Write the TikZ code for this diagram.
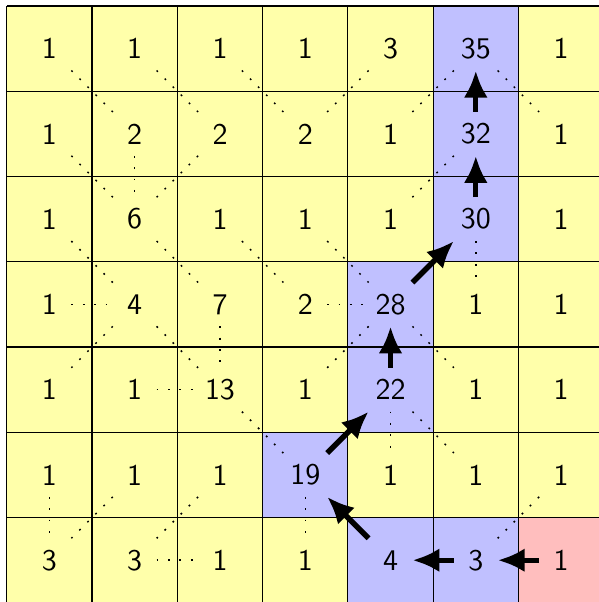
\documentclass[tikz,border=0pt]{standalone}
\definecolor{CellYellow}{RGB}{255,255,170}
\definecolor{PathBlue}{RGB}{192,192,255}
\definecolor{StartRed}{RGB}{255,190,190}
\usepackage{tikz}
\usetikzlibrary{arrows.meta}
\tikzset{
    % Number nodes sitting in the cells
    num/.style={
        rectangle,
        minimum size=0.5cm,
        inner sep=0pt,
        font=\sffamily
    },
    link style/.style={
        black,
        line width=0.5pt,
        dash pattern=on 0.6pt off 3.2pt
    },
    arrow style/.style={
        -{Latex[length=9pt,width=8pt]},
        line width=1.8pt,
        black
    }
}
\begin{document}
\begin{tikzpicture}
        \useasboundingbox (-0.08,0.07) rectangle (6.94,-6.99);

        % Cell colours
        \fill[CellYellow] (0,0) rectangle (7,-7);
        \foreach \c/\r in {5/0,5/1,5/2,4/3,4/4,3/5,4/6,5/6}
            \fill[PathBlue] (\c,-\r) rectangle ++(1,-1);
        \fill[StartRed] (6,-6) rectangle ++(1,-1);

        % Grid
        \draw[line width=0.4pt] (0,0) grid (7,-7);

        % Numbers
        \foreach \vals [count=\r from 0] in {
            {1,1,1,1,3,35,1},
            {1,2,2,2,1,32,1},
            {1,6,1,1,1,30,1},
            {1,4,7,2,28,1,1},
            {1,1,13,1,22,1,1},
            {1,1,1,19,1,1,1},
            {3,3,1,1,4,3,1}} {
            \foreach \v [count=\c from 0] in \vals {
                \node[num] (n-\c-\r) at (\c+0.5,-\r-0.5) {\v};
            }
        }

        % Dotted links
        \foreach \a/\b in {0-0/1-1, 1-0/2-1, 2-0/3-1, 4-0/3-1, 5-0/4-1, 5-0/6-1,
                           0-1/1-2, 1-1/1-2, 2-1/1-2, 5-1/4-2,
                           0-2/1-3, 1-2/2-3, 2-2/3-3, 3-2/4-3, 5-2/5-3,
                           0-3/1-3, 1-3/0-4, 1-3/2-4, 2-3/2-4, 3-3/4-3, 4-3/3-4, 4-3/5-4,
                           1-4/2-4, 2-4/3-5, 4-4/4-5, 4-4/5-5,
                           0-5/0-6, 1-5/0-6, 2-5/1-6, 3-5/3-6, 6-5/5-6, 1-6/2-6}
            \draw[link style] (n-\a) -- (n-\b);

        % Path arrows
        \draw[arrow style] (n-6-6) -- (n-5-6);
        \draw[arrow style] (n-5-6) -- (n-4-6);
        \draw[arrow style] (n-4-6) -- (n-3-5);
        \draw[arrow style] (n-3-5) -- (n-4-4);
        \draw[arrow style] (n-4-4) -- (n-4-3);
        \draw[arrow style] (n-4-3) -- (n-5-2);
        \draw[arrow style] (n-5-2) -- (n-5-1);
        \draw[arrow style] (n-5-1) -- (n-5-0);
    \end{tikzpicture}
\end{document}
